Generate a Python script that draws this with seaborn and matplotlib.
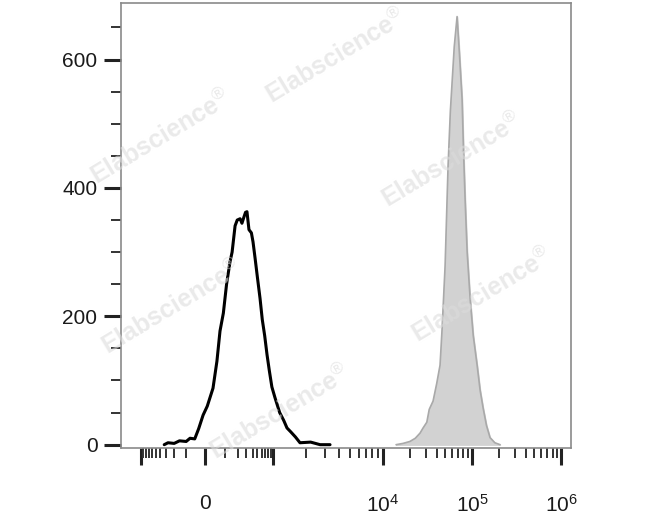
import numpy as np
import pandas as pd
import matplotlib
matplotlib.use('Agg')
import matplotlib.pyplot as plt
import seaborn as sns

# black outline histogram (control), fluorescence value vs count
ctrl_x = [-330, -274, -200, -150, -100, -76, -50, -30, -9, 10, 36, 55, 71, 90,
          110, 134, 150, 175, 195, 224, 245, 270, 290, 310, 340, 380, 409, 450, 500,
          561, 620, 690, 767, 850, 950, 1043, 1150, 1250, 1341, 1450, 1600, 1760,
          2200, 2680, 3300]
ctrl_y = [0, 3, 2, 6, 5, 10, 9, 25, 46, 60, 88, 130, 177, 205,
          250, 285, 300, 341, 350, 352, 345, 355, 362, 363, 335, 330, 316, 290, 260,
          228, 195, 170, 140, 115, 90, 73, 50, 38, 26, 20, 12, 3,
          4, 0, 0]

# grey filled histogram (stained)
stain_x = [14000, 16790, 20000, 23000, 26000, 28130, 31000, 33000, 36450, 40000,
           43650, 46000, 49750, 53700, 57000, 59570, 63000, 67800, 72000, 77200,
           80000, 83400, 88000, 95000, 103000, 113800, 123000, 133000, 145000,
           159000, 180000, 206000]
stain_y = [0, 2, 5, 10, 18, 26, 35, 55, 68, 95,
           124, 180, 279, 434, 520, 564, 620, 667, 610, 538,
           460, 383, 300, 228, 170, 124, 85, 57, 30,
           11, 3, 0]

major_x = [-1e3, 0, 1e3, 1e4, 1e5, 1e6]
major_x_labels = ['', '0', '', '$10^4$', '$10^5$', '$10^6$']
y_ticks = [0, 200, 400, 600]

# biexponential-like display scale (anchors of the FlowJo axis)
anchor_val = np.array([-1e4, -1e3, 0, 1e3, 1e4, 1e5, 1e6, 1e7])
anchor_pos = np.array([92, 141, 205, 273, 383, 472, 561, 650], dtype=float)
anchor_u = np.arcsinh(anchor_val / 100)


def fwd(x):
    return np.interp(np.arcsinh(np.asarray(x, dtype=float) / 100), anchor_u, anchor_pos)


def inv(p):
    return 100 * np.sinh(np.interp(np.asarray(p, dtype=float), anchor_pos, anchor_u))


sns.set_style('white')
plt.rcParams['font.family'] = ['Liberation Sans', 'DejaVu Sans']
plt.rcParams['mathtext.fontset'] = 'custom'
plt.rcParams['mathtext.rm'] = 'Liberation Sans'
plt.rcParams['mathtext.it'] = 'Liberation Sans'

fig = plt.figure(figsize=(6.47, 5.16), dpi=100)
ax = fig.add_axes([0.187, 0.132, 0.6955, 0.862])
ax.set_xscale('function', functions=(fwd, inv))

ctrl = pd.DataFrame({'x': ctrl_x, 'count': ctrl_y})
stain = pd.DataFrame({'x': stain_x, 'count': stain_y})

ax.fill_between(stain['x'], stain['count'], color='#d2d2d2', zorder=1)
sns.lineplot(data=stain, x='x', y='count', ax=ax, color='#a9a9a9', lw=1.2, zorder=2)
sns.lineplot(data=ctrl, x='x', y='count', ax=ax, color='black', lw=2.2, zorder=3)

ax.set_xlim(-2560, 1.29e6)
ax.set_ylim(-5, 688)

ax.set_xticks(major_x)
ax.set_xticklabels(major_x_labels)
minor_x = ([-v for v in range(100, 1000, 100)] + list(range(100, 1000, 100)) +
           list(range(2000, 10000, 1000)) + list(range(20000, 100000, 10000)) +
           list(range(200000, 1000000, 100000)))
ax.set_xticks(minor_x, minor=True)
ax.set_yticks(y_ticks)
ax.set_yticks(np.arange(0, 700, 50), minor=True)

ax.tick_params(axis='both', which='both', bottom=True, left=True)
ax.tick_params(axis='both', which='major', direction='out', length=12, width=2.2,
               color='#222222', labelsize=15, labelcolor='#1a1a1a')
ax.tick_params(axis='both', which='minor', direction='out', length=7, width=1.4,
               color='#333333')
ax.tick_params(axis='x', which='major', pad=21)
ax.tick_params(axis='y', which='major', pad=5)
ax.set_xlabel('')
ax.set_ylabel('')
for s in ax.spines.values():
    s.set_color('#8a8a8a')
    s.set_linewidth(1.2)

# watermarks
marks = [(161, 137), (336, 56), (452, 160), (172, 307), (482, 295), (280, 412)]
for mx, my in marks:
    fig.text(mx / 647, 1 - my / 516, 'Elabscience$^{\u00ae}$', rotation=31,
             ha='center', va='center', fontsize=18, fontweight='bold',
             color='#dcdcdc', alpha=0.6, zorder=10)

fig.savefig('out.png', dpi=100)
